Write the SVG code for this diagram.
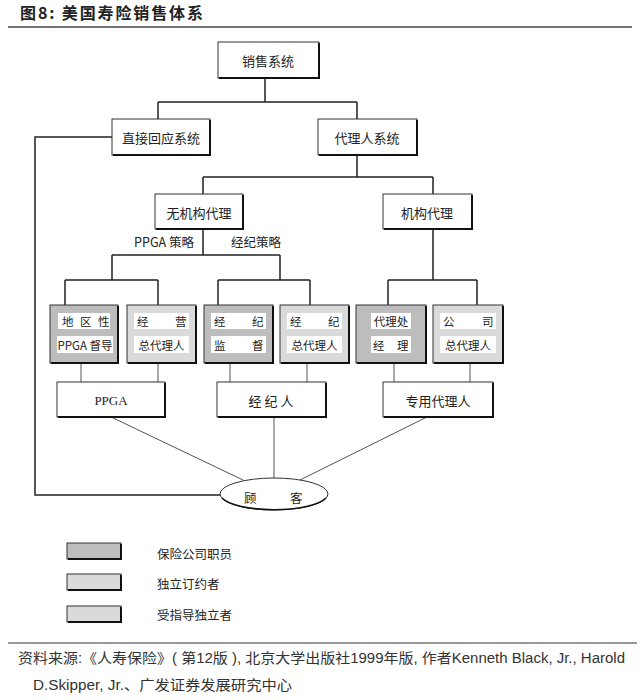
<svg xmlns="http://www.w3.org/2000/svg" width="640" height="700" viewBox="0 0 640 700">
<style>
  .t { font-family: "Noto Sans CJK SC", "Liberation Sans", sans-serif; fill: #222; }
  .box { fill: #ffffff; stroke: #333; stroke-width: 1; }
  .shadow { fill: none; stroke: #111; stroke-width: 2; }
  .dark { fill: #bdbdbd; stroke: #333; stroke-width: 1; }
  .light { fill: #dadada; stroke: #333; stroke-width: 1; }
  .hl { fill: #ffffff; stroke: none; }
  .c { fill: none; stroke: #222; stroke-width: 1.5; }
  .c2 { fill: none; stroke: #555; stroke-width: 1; }
  .lbl { font-size: 13px; text-anchor: middle; dominant-baseline: central; }
  .small { font-size: 11.5px; dominant-baseline: central; }
</style>
<rect width="640" height="700" fill="#ffffff"/>

<g id="title">
  <text class="t" x="20" y="19" font-size="16" font-weight="bold" fill="#333" textLength="183" lengthAdjust="spacing">图8:  美国寿险销售体系</text>
  <line x1="8" y1="27" x2="632" y2="27" stroke="#444" stroke-width="1.5"/>
</g>

<g id="connectors">
  <path class="c" d="M265,78 V102 M158,102 H357 M158,102 V119 M357,102 V119"/>
  <path class="c" d="M357,155 V177 M203,177 H433 M203,177 V194 M433,177 V194"/>
  <path class="c" d="M203,229 V255 M112,255 H280 M112,255 V280 M280,255 V280"/>
  <path class="c" d="M65,280 H158 M65,280 V305 M158,280 V305"/>
  <path class="c" d="M218,280 H310 M218,280 V305 M310,280 V305"/>
  <path class="c" d="M433,229 V280 M388,280 H477 M388,280 V305 M477,280 V305"/>
  <path class="c2" d="M81,363 V382 M158,363 V382 M230,363 V382 M307,363 V382 M394,363 V382 M470,363 V382"/>
  <path class="c2" d="M109,416 L243,480 M274,416 V478 M429,416 L300,480"/>
  <path class="c" d="M112,137 H35 V495 H220"/>
</g>

<g id="n-sales">
  <rect class="box" x="218" y="42" width="101" height="36"/>
  <path class="shadow" d="M219,78 H319 V43"/>
  <text class="t lbl" x="268" y="60">销售系统</text>
</g>
<g id="n-direct">
  <rect class="box" x="112" y="119" width="98" height="36"/>
  <path class="shadow" d="M113,155 H210 V120"/>
  <text class="t lbl" x="161" y="137">直接回应系统</text>
</g>
<g id="n-agent">
  <rect class="box" x="318" y="119" width="99" height="36"/>
  <path class="shadow" d="M319,155 H417 V120"/>
  <text class="t lbl" x="367" y="137">代理人系统</text>
</g>
<g id="n-noinst">
  <rect class="box" x="155" y="194" width="88" height="35"/>
  <path class="shadow" d="M156,229 H243 V195"/>
  <text class="t lbl" x="199" y="212">无机构代理</text>
</g>
<g id="n-inst">
  <rect class="box" x="383" y="194" width="89" height="35"/>
  <path class="shadow" d="M384,229 H472 V195"/>
  <text class="t lbl" x="427" y="212">机构代理</text>
</g>

<g id="strategy-labels">
  <text class="t" x="164" y="247" font-size="12.5" text-anchor="middle">PPGA 策略</text>
  <text class="t" x="256" y="247" font-size="12.5" text-anchor="middle">经纪策略</text>
</g>

<g id="n-regional">
  <rect class="dark" x="50" y="305" width="68" height="58"/>
  <path class="shadow" d="M51,363 H118 V306"/>
  <rect class="hl" x="58" y="313" width="52" height="16"/>
  <rect class="hl" x="57" y="336" width="56" height="17"/>
  <text class="t small"><tspan x="62" y="321">地</tspan><tspan x="80" y="321">区</tspan><tspan x="98" y="321">性</tspan></text>
  <text class="t small" x="85" y="345" text-anchor="middle">PPGA 督导</text>
</g>
<g id="n-general">
  <rect class="light" x="127" y="305" width="69" height="58"/>
  <path class="shadow" d="M128,363 H196 V306"/>
  <rect class="hl" x="134" y="313" width="55" height="16"/>
  <rect class="hl" x="134" y="336" width="55" height="17"/>
  <text class="t small"><tspan x="137" y="321">经</tspan><tspan x="175" y="321">营</tspan></text>
  <text class="t small" x="161.5" y="345" text-anchor="middle">总代理人</text>
</g>
<g id="n-brokersup">
  <rect class="dark" x="204" y="305" width="69" height="58"/>
  <path class="shadow" d="M205,363 H273 V306"/>
  <rect class="hl" x="211" y="313" width="55" height="16"/>
  <rect class="hl" x="211" y="336" width="55" height="17"/>
  <text class="t small"><tspan x="214" y="321">经</tspan><tspan x="252" y="321">纪</tspan></text>
  <text class="t small"><tspan x="214" y="345">监</tspan><tspan x="252" y="345">督</tspan></text>
</g>
<g id="n-brokergen">
  <rect class="light" x="280" y="305" width="69" height="58"/>
  <path class="shadow" d="M281,363 H349 V306"/>
  <rect class="hl" x="287" y="313" width="55" height="16"/>
  <rect class="hl" x="287" y="336" width="55" height="17"/>
  <text class="t small"><tspan x="290" y="321">经</tspan><tspan x="328" y="321">纪</tspan></text>
  <text class="t small" x="314.5" y="345" text-anchor="middle">总代理人</text>
</g>
<g id="n-agencymgr">
  <rect class="dark" x="356" y="305" width="70" height="58"/>
  <path class="shadow" d="M357,363 H426 V306"/>
  <rect class="hl" x="371" y="313" width="40" height="16"/>
  <rect class="hl" x="371" y="336" width="40" height="17"/>
  <text class="t small" x="391" y="321" text-anchor="middle">代理处</text>
  <text class="t small"><tspan x="373" y="345">经</tspan><tspan x="397" y="345">理</tspan></text>
</g>
<g id="n-company">
  <rect class="light" x="433" y="305" width="70" height="58"/>
  <path class="shadow" d="M434,363 H503 V306"/>
  <rect class="hl" x="440" y="313" width="56" height="16"/>
  <rect class="hl" x="440" y="336" width="56" height="17"/>
  <text class="t small"><tspan x="443" y="321">公</tspan><tspan x="482" y="321">司</tspan></text>
  <text class="t small" x="468" y="345" text-anchor="middle">总代理人</text>
</g>

<g id="n-ppga">
  <rect class="box" x="57" y="382" width="108" height="35"/>
  <path class="shadow" d="M58,417 H165 V383"/>
  <text x="111" y="400" font-family="Liberation Serif, serif" font-size="13" text-anchor="middle" dominant-baseline="central" fill="#222">PPGA</text>
</g>
<g id="n-broker">
  <rect class="box" x="217" y="382" width="109" height="35"/>
  <path class="shadow" d="M218,417 H326 V383"/>
  <text class="t lbl" x="271" y="400">经 纪 人</text>
</g>
<g id="n-exclusive">
  <rect class="box" x="383" y="382" width="110" height="35"/>
  <path class="shadow" d="M384,417 H493 V383"/>
  <text class="t lbl" x="438" y="400">专用代理人</text>
</g>

<g id="n-customer">
  <ellipse cx="274" cy="494" rx="54" ry="16" fill="#ffffff" stroke="#333" stroke-width="1"/>
  <path d="M222,498 A54,16 0 0 0 326,498" fill="none" stroke="#111" stroke-width="1.6"/>
  <text class="t" font-size="12.5" dominant-baseline="central"><tspan x="244" y="497">顾</tspan><tspan x="290" y="497">客</tspan></text>
</g>

<g id="legend">
  <rect class="dark" x="67" y="543" width="54" height="16"/>
  <path class="shadow" d="M68,559 H121 V544"/>
  <rect class="light" x="67" y="574" width="54" height="16"/>
  <path class="shadow" d="M68,590 H121 V575"/>
  <rect class="light" x="67" y="606" width="54" height="16"/>
  <path class="shadow" d="M68,622 H121 V607"/>
  <text class="t" x="157" y="553" font-size="12.5" dominant-baseline="central">保险公司职员</text>
  <text class="t" x="157" y="583" font-size="12.5" dominant-baseline="central">独立订约者</text>
  <text class="t" x="157" y="614" font-size="12.5" dominant-baseline="central">受指导独立者</text>
</g>

<g id="source">
  <line x1="8" y1="643" x2="637" y2="643" stroke="#333" stroke-width="1"/>
  <text x="18" y="663" font-family="Liberation Sans, Noto Sans CJK SC, sans-serif" font-size="14" fill="#333" textLength="607" lengthAdjust="spacingAndGlyphs">资料来源:《人寿保险》( 第12版 ), 北京大学出版社1999年版, 作者Kenneth Black, Jr., Harold</text>
  <text x="33" y="690" font-family="Liberation Sans, Noto Sans CJK SC, sans-serif" font-size="14" fill="#333" textLength="259" lengthAdjust="spacingAndGlyphs">D.Skipper, Jr.、广发证券发展研究中心</text>
</g>
</svg>
